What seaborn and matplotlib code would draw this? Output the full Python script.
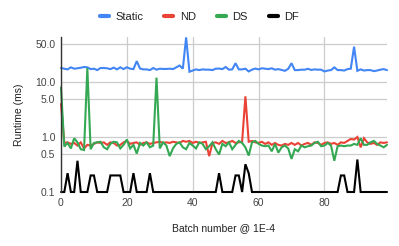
import matplotlib
matplotlib.use("Agg")
import matplotlib.pyplot as plt
import seaborn as sns
import pandas as pd
import numpy as np
from matplotlib.lines import Line2D
from matplotlib.ticker import FixedLocator, FixedFormatter

series_names = ["Static", "ND", "DS", "DF"]

static = [18, 17.5, 17, 18.5, 17.5, 17.8, 18.2, 18.8, 18.5, 17.2, 17.5, 16.5, 18, 18, 17.8, 17.2, 18.3, 17, 18.5, 17.2,
          18.6, 17.5, 17.2, 24, 17.6, 17, 17, 16.5, 18, 16.8, 17.5, 17.3, 17.3, 17.5, 17.2, 18.5, 20, 17.5, 65, 15.4,
          16.2, 17, 16.5, 17, 16.8, 16.8, 16.5, 17.5, 17.6, 17.2, 18.8, 16.8, 17, 22, 17, 17, 17.5, 15.6, 16.8, 17.6,
          17, 17.8, 17.5, 17.2, 17.8, 16.8, 17.2, 16.6, 16, 17.4, 22, 16.5, 16.5, 16.8, 16.8, 17.4, 16.6, 17, 16.8, 16.8,
          15.6, 16.2, 16.5, 18.5, 16.5, 16.5, 16.2, 17.2, 17.5, 44, 16, 17, 16.2, 16.5, 16.5, 15.8, 16.2, 16.8, 17.2, 16.5]

nd = [4.0, 0.78, 0.8, 0.75, 0.78, 0.7, 0.8, 0.62, 0.72, 0.7, 0.75, 0.8, 0.78, 0.8, 0.72, 0.8, 0.78, 0.7, 0.72, 0.8,
      0.85, 0.75, 0.78, 0.8, 0.72, 0.78, 0.8, 0.75, 0.78, 0.8, 0.82, 0.78, 0.8, 0.78, 0.82, 0.8, 0.78, 0.85, 0.82, 0.85,
      0.78, 0.82, 0.78, 0.8, 0.82, 0.45, 0.78, 0.8, 0.75, 0.85, 0.78, 0.8, 0.85, 0.78, 0.8, 0.82, 5.5, 0.82, 0.85, 0.8,
      0.78, 0.82, 0.75, 0.8, 0.72, 0.78, 0.72, 0.7, 0.75, 0.72, 0.78, 0.72, 0.78, 0.7, 0.75, 0.78, 0.72, 0.8, 0.78, 0.72,
      0.78, 0.8, 0.75, 0.78, 0.72, 0.8, 0.78, 0.85, 0.92, 0.9, 1.0, 0.65, 0.95, 0.8, 0.75, 0.78, 0.72, 0.8, 0.78, 0.8]

ds = [8.0, 0.67, 0.78, 0.62, 0.95, 0.8, 0.6, 0.58, 18.0, 0.6, 0.78, 0.8, 0.82, 0.65, 0.6, 0.75, 0.82, 0.8, 0.62, 0.72,
      0.9, 0.62, 0.72, 0.5, 0.78, 0.7, 0.8, 0.65, 0.7, 12.0, 0.62, 0.8, 0.7, 0.45, 0.62, 0.75, 0.8, 0.65, 0.6, 0.78,
      0.7, 0.62, 0.8, 0.75, 0.6, 0.68, 0.8, 0.6, 0.48, 0.75, 0.68, 0.8, 0.6, 0.72, 0.85, 0.78, 0.65, 0.46, 0.8, 0.85,
      0.75, 0.7, 0.68, 0.7, 0.55, 0.75, 0.52, 0.65, 0.7, 0.62, 0.4, 0.6, 0.55, 0.7, 0.65, 0.68, 0.7, 0.78, 0.82, 0.68,
      0.7, 0.78, 0.7, 0.37, 0.68, 0.7, 0.68, 0.7, 0.7, 0.75, 0.72, 0.95, 0.72, 0.72, 0.8, 0.85, 0.75, 0.7, 0.65, 0.72]

df_vals = [0.1, 0.1, 0.22, 0.1, 0.1, 0.37, 0.1, 0.1, 0.1, 0.2, 0.2, 0.1, 0.1, 0.1, 0.1, 0.2, 0.2, 0.2, 0.2, 0.1,
           0.1, 0.1, 0.22, 0.1, 0.1, 0.1, 0.1, 0.22, 0.1, 0.1, 0.1, 0.1, 0.1, 0.1, 0.1, 0.1, 0.1, 0.1, 0.1, 0.1,
           0.1, 0.1, 0.1, 0.1, 0.1, 0.1, 0.1, 0.1, 0.22, 0.1, 0.1, 0.1, 0.1, 0.2, 0.2, 0.1, 0.32, 0.22, 0.1, 0.1,
           0.1, 0.1, 0.1, 0.1, 0.1, 0.1, 0.1, 0.1, 0.1, 0.1, 0.1, 0.1, 0.1, 0.1, 0.1, 0.1, 0.1, 0.1, 0.1, 0.1,
           0.1, 0.1, 0.1, 0.1, 0.1, 0.2, 0.2, 0.1, 0.1, 0.1, 0.39, 0.1, 0.1, 0.1, 0.1, 0.1, 0.1, 0.1, 0.1, 0.1]

y_ticks = [0.1, 0.5, 1.0, 5.0, 10.0, 50.0]
y_tick_labels = ["0.1", "0.5", "1.0", "5.0", "10.0", "50.0"]
x_ticks = [0, 20, 40, 60, 80]

batch = list(range(len(static)))
frame = pd.DataFrame({
    "batch": batch * 4,
    "runtime": static + nd + ds + df_vals,
    "series": sum([[n] * len(batch) for n in series_names], []),
})

colors = {"Static": "#4285F4", "ND": "#EA4335", "DS": "#34A853", "DF": "#000000"}

sns.set_theme(style="white")
plt.rcParams["font.family"] = ["Liberation Sans", "DejaVu Sans"]

fig = plt.figure(figsize=(3.99, 2.46), dpi=100)
ax = fig.add_axes([61 / 399, 1 - 192 / 246, (387 - 61) / 399, (192 - 37) / 246])

sns.lineplot(data=frame, x="batch", y="runtime", hue="series", hue_order=series_names,
             palette=colors, linewidth=1.5, ax=ax, legend=False, estimator=None)
for ln in ax.get_lines():
    ln.set_clip_on(False)
    ln.set_solid_joinstyle("miter")

ax.set_yscale("log")
ax.set_ylim(0.1, 66)
ax.set_xlim(0, 99)
ax.yaxis.set_major_locator(FixedLocator(y_ticks))
ax.yaxis.set_major_formatter(FixedFormatter(y_tick_labels))
ax.yaxis.set_minor_locator(FixedLocator([]))
ax.set_xticks(x_ticks)
ax.set_xticklabels([str(t) for t in x_ticks])

ax.grid(True, color="#cccccc", linewidth=0.9)
ax.set_axisbelow(True)
for s in ["top", "right", "bottom"]:
    ax.spines[s].set_visible(False)
ax.spines["left"].set_color("#333333")
ax.spines["left"].set_linewidth(1.0)
ax.tick_params(axis="both", length=0, labelsize=7.5, colors="#444444", pad=4)

ax.set_xlabel("Batch number @ 1E-4", fontsize=7.5, color="#222222", labelpad=11)
ax.set_ylabel("Runtime (ms)", fontsize=7.5, color="#222222", labelpad=8)

handles = [Line2D([0], [0], color=colors[n], linewidth=3) for n in series_names]
fig.legend(handles, series_names, loc="center", bbox_to_anchor=(0.5, 1 - 17 / 246), ncol=4,
           frameon=False, fontsize=8, handlelength=0.8, handletextpad=0.6, columnspacing=1.9,
           labelcolor="#222222")

fig.savefig("out.png", dpi=100)
